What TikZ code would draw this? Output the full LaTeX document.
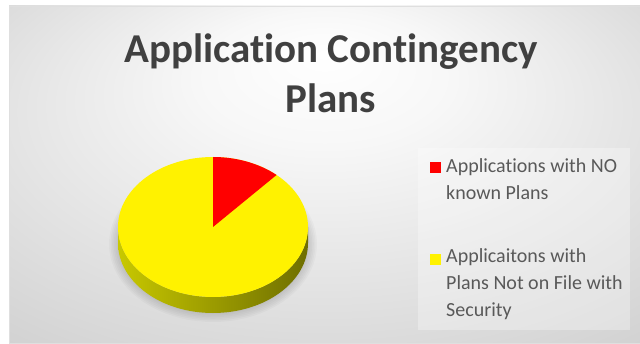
\documentclass[tikz,border=0pt]{standalone}
\usepackage{fontspec}
\setmainfont{Carlito}[Ligatures=NoCommon]
\usetikzlibrary{positioning}
\definecolor{titlegray}{HTML}{404040}
\definecolor{textgray}{HTML}{595959}
\definecolor{olivelight}{HTML}{C8C800}
\definecolor{olivedark}{HTML}{6E6E00}
\pgfdeclareradialshading{panelglow}{\pgfpoint{0bp}{18bp}}{color(0bp)=(white); color(10bp)=(white!97!black); color(45bp)=(gray!42); color(50bp)=(gray!42)}
\tikzset{
    x=1pt, y=1pt,
    chart title/.style={font=\fontsize{41}{50}\selectfont\bfseries, text=titlegray, align=center, inner sep=0pt},
    key text/.style={font=\fontsize{20}{26.6}\selectfont, text=textgray, align=left, anchor=base west, inner sep=0pt},
    key mark/.style={minimum size=11pt, inner sep=0pt},
    pie radii/.style={x radius=95, y radius=70}
}

\begin{document}
\begin{tikzpicture}
	\useasboundingbox (0,0) rectangle (640,343);
	\fill[white] (0,0) rectangle (640,343);
	\shade[shading=panelglow, draw=gray!25] (9,0) rectangle (640,337);
	% legend area
	\fill[white, opacity=0.3] (418,13) rectangle (630,195);

	% base anchor sits on the last line
	\node[chart title, anchor=base] (title) at (331,230) {Application Contingency\\Plans};

	% pie, seen from above
	\begin{scope}[shift={(213,116)}]
	\foreach \s in {0,...,5}
		\fill[black, opacity=0.025] (0,-17) ellipse[x radius=96+1.6*\s, y radius=70+1.6*\s];
	\shade[left color=olivelight, right color=olivedark] (-95,0) -- (-95,-16)
		arc[start angle=180, end angle=360, pie radii] -- (95,0)
		arc[start angle=0, end angle=-180, pie radii] -- cycle;
	\fill[yellow] (0,0) ellipse[pie radii];
	\fill[red] (0,0) -- (48:95 and 70) arc[start angle=48, end angle=90, pie radii] -- cycle;
	\end{scope}

	\node[key mark, fill=red] (nokey) at (435,175) {};
	\node[key text] (notext) at (446,143.7) {Applications with NO\\known Plans};
	\node[key mark, fill=yellow] (filekey) at (435,83.5) {};
	\node[key text] (filetext) at (446,27) {Applicaitons with\\Plans Not on File with\\Security};
\end{tikzpicture}
\end{document}
